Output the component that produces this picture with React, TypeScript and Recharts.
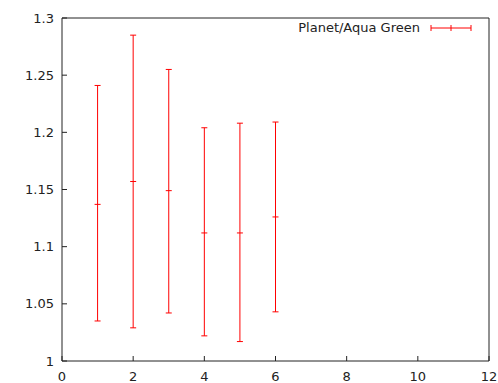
import { ScatterChart, Scatter, XAxis, YAxis, ErrorBar } from 'recharts';

const xValues = [1, 2, 3, 4, 5, 6];
const centers = [1.137, 1.157, 1.149, 1.112, 1.112, 1.126];
const highs = [1.241, 1.285, 1.255, 1.204, 1.208, 1.209];
const lows = [1.035, 1.029, 1.042, 1.022, 1.017, 1.043];
const xTicks = [0, 2, 4, 6, 8, 10, 12];
const yTicks = [1, 1.05, 1.1, 1.15, 1.2, 1.25, 1.3];
const seriesName = 'Planet/Aqua Green';

const data = xValues.map((x, i) => ({
  x,
  y: centers[i],
  err: [centers[i] - lows[i], highs[i] - centers[i]],
}));

const RED = '#ff0000';
const INK = '#222';
const FONT = '"DejaVu Sans", sans-serif';

const BottomTick = ({ x, y, payload }: any) => (
  <g>
    <line x1={x} x2={x} y1={y} y2={y - 5} stroke={INK} />
    <text x={x} y={y + 20} textAnchor="middle" fontSize={13} fontFamily={FONT} fill={INK}>
      {payload.value}
    </text>
  </g>
);

const TopTick = ({ x, y }: any) => <line x1={x} x2={x} y1={y} y2={y + 5} stroke={INK} />;

const LeftTick = ({ x, y, payload }: any) => (
  <g>
    <line x1={x} x2={x + 5} y1={y} y2={y} stroke={INK} />
    <text x={x - 8} y={y} dy="0.35em" textAnchor="end" fontSize={13} fontFamily={FONT} fill={INK}>
      {payload.value}
    </text>
  </g>
);

const RightTick = ({ x, y }: any) => <line x1={x} x2={x - 5} y1={y} y2={y} stroke={INK} />;

const CenterMark = ({ cx, cy }: any) => (
  <line x1={cx - 3} x2={cx + 3} y1={cy} y2={cy} stroke={RED} strokeWidth={1} />
);

const App = () => {
  return (
    <div style={{ position: 'absolute', left: 0, top: 0, width: 498, height: 383, background: '#fff' }}>
      <ScatterChart width={498} height={383} margin={{ top: 17, right: 8, bottom: 0, left: 0 }}>
        <XAxis
          type="number"
          dataKey="x"
          domain={[0, 12]}
          ticks={xTicks}
          height={22}
          tickSize={0}
          tickMargin={0}
          axisLine={{ stroke: INK }}
          tick={<BottomTick />}
        />
        <XAxis
          xAxisId="top"
          orientation="top"
          type="number"
          dataKey="x"
          domain={[0, 12]}
          ticks={xTicks}
          height={1}
          tickSize={0}
          tickMargin={0}
          axisLine={{ stroke: INK }}
          tick={<TopTick />}
        />
        <YAxis
          type="number"
          dataKey="y"
          domain={[1, 1.3]}
          ticks={yTicks}
          width={62}
          tickSize={0}
          tickMargin={0}
          axisLine={{ stroke: INK }}
          tick={<LeftTick />}
        />
        <YAxis
          yAxisId="right"
          orientation="right"
          type="number"
          dataKey="y"
          domain={[1, 1.3]}
          ticks={yTicks}
          width={1}
          tickSize={0}
          tickMargin={0}
          axisLine={{ stroke: INK }}
          tick={<RightTick />}
        />
        <Scatter name={seriesName} data={data} shape={<CenterMark />} isAnimationActive={false}>
          <ErrorBar dataKey="err" direction="y" width={3} stroke={RED} strokeWidth={1} isAnimationActive={false} />
        </Scatter>
      </ScatterChart>
      <div
        style={{
          position: 'absolute',
          top: 19,
          right: 26,
          display: 'flex',
          alignItems: 'center',
          fontFamily: FONT,
          fontSize: 13,
          color: INK,
          lineHeight: '18px',
        }}
      >
        <span>{seriesName}</span>
        <svg width={42} height={10} style={{ marginLeft: 10 }}>
          <line x1={1} x2={41} y1={5} y2={5} stroke={RED} />
          <line x1={1} x2={1} y1={2} y2={8} stroke={RED} />
          <line x1={41} x2={41} y1={2} y2={8} stroke={RED} />
          <line x1={21} x2={21} y1={2} y2={8} stroke={RED} />
        </svg>
      </div>
    </div>
  );
};

export default App;
